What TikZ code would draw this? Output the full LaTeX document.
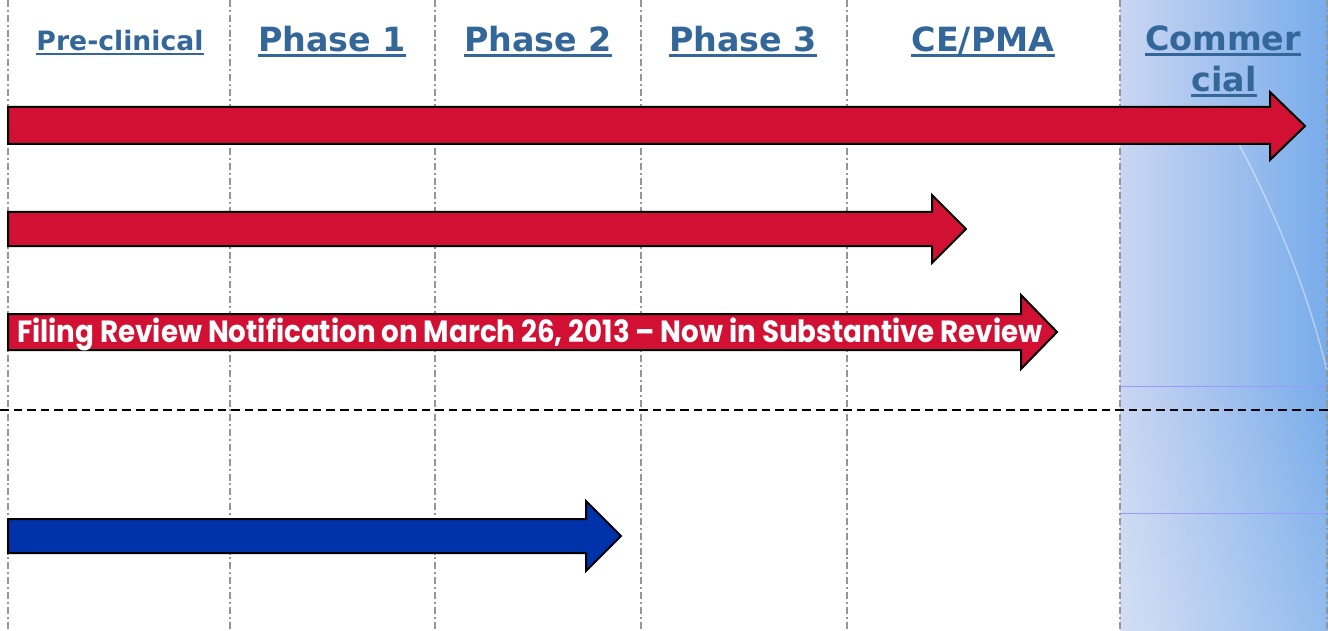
\documentclass[tikz,border=0pt]{standalone}
\usepackage{fontspec}
\usepackage{graphicx}
\usetikzlibrary{fadings}
\setmainfont{DejaVu Sans}
\newfontfamily\gothic{Poppins}
\definecolor{headblue}{RGB}{51,102,153}
\definecolor{arrowred}{RGB}{210,16,52}
\definecolor{arrowblue}{RGB}{0,51,170}
\definecolor{panelleft}{RGB}{202,214,242}
\definecolor{panelmid}{RGB}{172,198,240}
\definecolor{panelright}{RGB}{120,172,234}
\definecolor{colgray}{RGB}{150,150,150}

\begin{document}
\begin{tikzpicture}[x=0.75pt,y=-0.75pt,
	phase/.style={font=\bfseries\fontsize{25}{30}\selectfont, text=headblue, inner sep=0pt, anchor=base},
	uline/.style={headblue, line width=2.2pt},
	colline/.style={colgray, line width=1.8pt, dash pattern=on 5.2pt off 2.2pt on 1.5pt off 2.2pt},
	redarrow/.style={fill=arrowred, draw=black, line width=1.5pt, line join=miter},
	bluearrow/.style={fill=arrowblue, draw=black, line width=1.5pt, line join=miter}]
	\useasboundingbox (0,0) rectangle (1328,631);
	
	% commercial panel
	\shade[left color=panelleft, middle color=panelmid, right color=panelright] (1120,0) rectangle (1328,631);
	\fill[white, path fading=north, fill opacity=0.2] (1120,380) rectangle (1328,631);
	\draw[white, opacity=0.45, line width=1pt] (1234,135) .. controls (1280,220) and (1310,300) .. (1328,375);
	\draw[blue!40, line width=0.6pt] (1120,386) -- (1328,386);
	\draw[blue!40, line width=0.6pt] (1120,513) -- (1328,513);
	
	% column lines
	\foreach \x in {8,230,435,641,847,1120,1327}
		\draw[colline] (\x,0) -- (\x,631);
	\draw[black, line width=1.5pt, dash pattern=on 6.5pt off 3.7pt] (0,410) -- (1328,410);
	
	% headers
	\node[phase, font=\bfseries\fontsize{20}{24}\selectfont] (pre) at (120,51) {Pre-clinical};
	\node[phase] (ph1) at (332,52) {Phase 1};
	\node[phase] (ph2) at (538,52) {Phase 2};
	\node[phase] (ph3) at (743,52) {Phase 3};
	\node[phase] (cepma) at (983,52) {CE/PMA};
	\node[phase] (comm1) at (1223,51) {Commer};
	\node[phase] (comm2) at (1224,92) {cial};
	\draw[uline, line width=1.8pt] ([yshift=-2.4pt]pre.base west) -- ([yshift=-2.4pt]pre.base east);
	\foreach \h in {ph1,ph2,ph3,cepma,comm1,comm2}
		\draw[uline] ([yshift=-2.6pt]\h.base west) -- ([yshift=-2.6pt]\h.base east);
	
	% arrows
	\filldraw[redarrow] (8,107) -- (1270,107) -- (1270,92) -- (1305,126) -- (1270,160) -- (1270,144) -- (8,144) -- cycle;
	\filldraw[redarrow] (8,212) -- (932,212) -- (932,195) -- (966,229) -- (932,263) -- (932,246) -- (8,246) -- cycle;
	\filldraw[redarrow] (8,314) -- (1021,314) -- (1021,295) -- (1057,332) -- (1021,369) -- (1021,350) -- (8,350) -- cycle;
	\filldraw[bluearrow] (8,519) -- (586,519) -- (586,501) -- (621,536) -- (586,571) -- (586,553) -- (8,553) -- cycle;
	
	\node[anchor=base west, inner sep=0pt, text=white] (filing) at (17,342)
		{\resizebox{769pt}{\height}{\gothic\bfseries\fontsize{23}{26}\selectfont Filing Review Notification on March 26, 2013 – Now in Substantive Review}};
\end{tikzpicture}
\end{document}
